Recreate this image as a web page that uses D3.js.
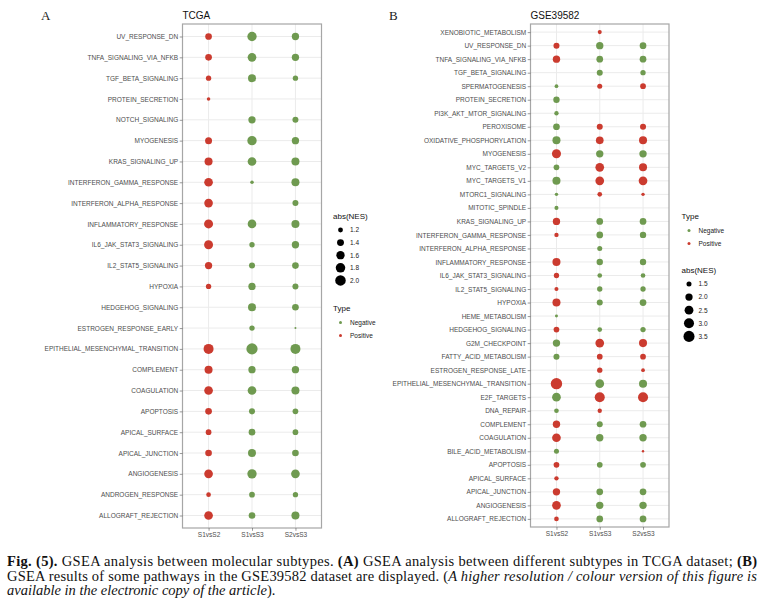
<!DOCTYPE html>
<html>
<head>
    <title>GSEA dot plots</title>
    <script src="https://d3js.org/d3.v7.min.js"></script>
    <style>
        body { margin: 0; background: #fff; }
    </style>
</head>
<body>
<svg width="762" height="604"></svg>
<script>
    const comparisons = ["S1vsS2", "S1vsS3", "S2vsS3"];

    // Panel A (TCGA), rows listed top to bottom
    const pathwaysA = [
        "UV_RESPONSE_DN", "TNFA_SIGNALING_VIA_NFKB", "TGF_BETA_SIGNALING", "PROTEIN_SECRETION",
        "NOTCH_SIGNALING", "MYOGENESIS", "KRAS_SIGNALING_UP", "INTERFERON_GAMMA_RESPONSE",
        "INTERFERON_ALPHA_RESPONSE", "INFLAMMATORY_RESPONSE", "IL6_JAK_STAT3_SIGNALING", "IL2_STAT5_SIGNALING",
        "HYPOXIA", "HEDGEHOG_SIGNALING", "ESTROGEN_RESPONSE_EARLY", "EPITHELIAL_MESENCHYMAL_TRANSITION",
        "COMPLEMENT", "COAGULATION", "APOPTOSIS", "APICAL_SURFACE",
        "APICAL_JUNCTION", "ANGIOGENESIS", "ANDROGEN_RESPONSE", "ALLOGRAFT_REJECTION"
    ];
    const nesA_S1vsS2 = [1.37, 1.37, 1.24, 1.13, null, 1.41, 1.55, 1.65, 1.65, 1.70, 1.70, 1.45,
                         1.24, null, null, 1.89, 1.55, 1.65, 1.37, 1.27, 1.37, 1.65, 1.19, 1.65];
    const nesA_S1vsS3 = [1.77, 1.65, 1.55, null, 1.45, 1.77, 1.65, 1.13, null, 1.65, 1.24, 1.30,
                         1.45, 1.55, 1.24, 2.15, 1.45, 1.65, 1.30, 1.37, 1.55, 1.77, 1.27, 1.37];
    const nesA_S2vsS3 = [1.45, 1.45, 1.24, null, 1.30, 1.45, 1.55, 1.55, 1.30, 1.55, 1.45, 1.37,
                         1.30, 1.37, 1.10, 1.89, 1.45, 1.55, 1.27, 1.27, 1.37, 1.65, 1.24, 1.55];
    const typeA = ["Positive", "Negative", "Negative"];   // one type per comparison in TCGA
    const sizeBreaksA = [1.2, 1.4, 1.6, 1.8, 2.0];

    // Panel B (GSE39582), rows listed top to bottom; P = Positive, N = Negative
    const pathwaysB = [
        "XENOBIOTIC_METABOLISM", "UV_RESPONSE_DN", "TNFA_SIGNALING_VIA_NFKB", "TGF_BETA_SIGNALING",
        "SPERMATOGENESIS", "PROTEIN_SECRETION", "PI3K_AKT_MTOR_SIGNALING", "PEROXISOME",
        "OXIDATIVE_PHOSPHORYLATION", "MYOGENESIS", "MYC_TARGETS_V2", "MYC_TARGETS_V1",
        "MTORC1_SIGNALING", "MITOTIC_SPINDLE", "KRAS_SIGNALING_UP", "INTERFERON_GAMMA_RESPONSE",
        "INTERFERON_ALPHA_RESPONSE", "INFLAMMATORY_RESPONSE", "IL6_JAK_STAT3_SIGNALING", "IL2_STAT5_SIGNALING",
        "HYPOXIA", "HEME_METABOLISM", "HEDGEHOG_SIGNALING", "G2M_CHECKPOINT",
        "FATTY_ACID_METABOLISM", "ESTROGEN_RESPONSE_LATE", "EPITHELIAL_MESENCHYMAL_TRANSITION", "E2F_TARGETS",
        "DNA_REPAIR", "COMPLEMENT", "COAGULATION", "BILE_ACID_METABOLISM",
        "APOPTOSIS", "APICAL_SURFACE", "APICAL_JUNCTION", "ANGIOGENESIS", "ALLOGRAFT_REJECTION"
    ];
    const nesB_S1vsS2 = [null, 1.68, 2.02, null, 1.35, 1.76, 1.41, 1.84, 2.23, 2.59, 1.62, 2.23,
                         1.33, 1.38, 2.02, 1.41, null, 2.23, 1.55, 1.38, 2.23, 1.31, 1.62, 2.02,
                         1.68, null, 3.67, 2.46, 1.45, 2.02, 2.46, 1.50, 1.62, 1.41, 2.02, 2.46, 1.45];
    const typeB_S1vsS2 = ["", "P", "P", "", "N", "N", "N", "N", "N", "P", "N", "N",
                          "N", "N", "P", "P", "", "P", "P", "P", "P", "N", "P", "N",
                          "N", "", "P", "N", "N", "P", "P", "N", "P", "P", "P", "P", "P"];
    const nesB_S1vsS3 = [1.38, 2.02, 1.84, 1.68, 1.50, null, null, 1.68, 2.12, 2.02, 2.46, 2.46,
                         1.45, null, 1.84, 1.84, 1.50, 1.76, 1.45, 1.55, 1.68, null, 1.45, 2.46,
                         1.62, 1.55, 2.46, 3.01, 1.41, 1.68, 2.02, null, 1.62, null, 1.84, 2.02, 1.84];
    const typeB_S1vsS3 = ["P", "N", "N", "N", "P", "", "", "P", "P", "N", "P", "P",
                          "P", "", "N", "N", "N", "N", "N", "N", "N", "", "N", "P",
                          "P", "P", "N", "P", "P", "N", "N", "", "N", "", "N", "N", "N"];
    const nesB_S2vsS3 = [null, 1.84, 1.84, 1.55, 1.62, null, null, 1.68, 2.23, 2.02, 2.23, 2.46,
                         1.33, null, 1.84, 1.76, null, 1.76, 1.45, 1.55, 1.84, null, 1.55, 2.23,
                         1.62, 1.35, 2.23, 3.01, null, 1.84, 2.02, 1.30, 1.62, null, 1.84, 2.02, 1.84];
    const typeB_S2vsS3 = ["", "N", "N", "N", "P", "", "", "P", "P", "N", "P", "P",
                          "P", "", "N", "N", "", "N", "N", "N", "N", "", "N", "P",
                          "P", "P", "N", "P", "", "N", "N", "P", "N", "", "N", "N", "N"];
    const sizeBreaksB = [1.5, 2.0, 2.5, 3.0, 3.5];

    const typeNames = ["Negative", "Positive"];
    const typeColors = ["#6f9a50", "#cb3b2f"];
    const color = d3.scaleOrdinal().domain(typeNames).range(typeColors);

    const svg = d3.select("svg");
    const font = "'Liberation Sans', Arial, sans-serif";

    // tidy rows for each panel
    const rowsA = [];
    [nesA_S1vsS2, nesA_S1vsS3, nesA_S2vsS3].forEach((col, j) => {
        col.forEach((v, i) => {
            if (v != null) rowsA.push({pathway: pathwaysA[i], comp: comparisons[j], nes: v, type: typeA[j]});
        });
    });
    const rowsB = [];
    [[nesB_S1vsS2, typeB_S1vsS2], [nesB_S1vsS3, typeB_S1vsS3], [nesB_S2vsS3, typeB_S2vsS3]].forEach(([col, tcol], j) => {
        col.forEach((v, i) => {
            if (v != null) rowsB.push({pathway: pathwaysB[i], comp: comparisons[j], nes: v,
                                       type: tcol[i] === "P" ? "Positive" : "Negative"});
        });
    });

    // ggplot-like area scale: rescale to [0,1], sqrt, then to radius range
    function sizeScale(values, rRange) {
        const norm = d3.scaleLinear().domain(d3.extent(values)).range([0, 1]).clamp(true);
        const rad = d3.scaleLinear().domain([0, 1]).range(rRange);
        return v => rad(Math.sqrt(norm(v)));
    }

    function drawPanel(o) {
        const g = svg.append("g");
        const x = d3.scalePoint().domain(comparisons).range([o.left, o.right]).padding(0.6);
        const y = d3.scalePoint().domain(o.pathways).range([o.top, o.bottom]).padding(0.6);
        const r = sizeScale(o.rows.map(d => d.nes), o.rRange);

        // background grid
        g.append("g").selectAll("line.h").data(o.pathways).join("line")
            .attr("x1", o.left).attr("x2", o.right)
            .attr("y1", d => y(d)).attr("y2", d => y(d))
            .attr("stroke", "#ebebeb").attr("stroke-width", 1);
        g.append("g").selectAll("line.v").data(comparisons).join("line")
            .attr("x1", d => x(d)).attr("x2", d => x(d))
            .attr("y1", o.top).attr("y2", o.bottom)
            .attr("stroke", "#ebebeb").attr("stroke-width", 1);

        // points
        g.append("g").selectAll("circle").data(o.rows).join("circle")
            .attr("cx", d => x(d.comp))
            .attr("cy", d => y(d.pathway))
            .attr("r", d => r(d.nes))
            .attr("fill", d => color(d.type));

        // panel border
        g.append("rect")
            .attr("x", o.left).attr("y", o.top)
            .attr("width", o.right - o.left).attr("height", o.bottom - o.top)
            .attr("fill", "none").attr("stroke", "#a6a6a6").attr("stroke-width", 1.2);

        // axes
        const ay = g.append("g").attr("transform", `translate(${o.left},0)`)
            .call(d3.axisLeft(y).tickSize(2.8).tickPadding(1.5));
        const ax = g.append("g").attr("transform", `translate(0,${o.bottom})`)
            .call(d3.axisBottom(x).tickSize(2.8).tickPadding(1.5));
        [ay, ax].forEach(a => {
            a.select(".domain").remove();
            a.selectAll(".tick line").attr("stroke", "#555").attr("stroke-width", 0.6);
            a.selectAll(".tick text").attr("fill", "#4d4d4d")
                .style("font-family", font).style("font-size", "6.5px");
        });

        // title and panel letter
        g.append("text").attr("x", o.left).attr("y", 19)
            .text(o.title).style("font-family", font).style("font-size", "10px").attr("fill", "#111");
        g.append("text").attr("x", o.letterX).attr("y", 20)
            .text(o.letter).style("font-family", "'Liberation Serif', 'Times New Roman', serif")
            .style("font-size", "13px").attr("fill", "#222");

        // legends
        const drawSize = (titleY) => {
            const lg = g.append("g");
            lg.append("text").attr("x", o.legX).attr("y", titleY).text("abs(NES)")
                .style("font-family", font).style("font-size", "8px").attr("fill", "#111");
            o.breaks.forEach((b, i) => {
                const cy = titleY + 11 + i * o.keyStep;
                lg.append("circle").attr("cx", o.legX + 7.5).attr("cy", cy).attr("r", r(b)).attr("fill", "#000");
                lg.append("text").attr("x", o.legX + 17).attr("y", cy + 2.3).text(d3.format(".1f")(b))
                    .style("font-family", font).style("font-size", "6.5px").attr("fill", "#222");
            });
        };
        const drawType = (titleY) => {
            const lg = g.append("g");
            lg.append("text").attr("x", o.legX).attr("y", titleY).text("Type")
                .style("font-family", font).style("font-size", "8px").attr("fill", "#111");
            typeNames.forEach((t, i) => {
                const cy = titleY + 11.5 + i * 13;
                lg.append("circle").attr("cx", o.legX + 7.5).attr("cy", cy).attr("r", 1.5).attr("fill", color(t));
                lg.append("text").attr("x", o.legX + 17).attr("y", cy + 2.3).text(t)
                    .style("font-family", font).style("font-size", "6.5px").attr("fill", "#222");
            });
        };
        if (o.sizeFirst) { drawSize(o.legY); drawType(o.legY2); }
        else { drawType(o.legY); drawSize(o.legY2); }
    }

    drawPanel({
        rows: rowsA, pathways: pathwaysA, title: "TCGA", letter: "A", letterX: 41,
        left: 182.5, right: 321.5, top: 24, bottom: 528, rRange: [1.0, 5.6],
        breaks: sizeBreaksA, legX: 333, legY: 219, legY2: 311, keyStep: 12.6, sizeFirst: true
    });
    drawPanel({
        rows: rowsB, pathways: pathwaysB, title: "GSE39582", letter: "B", letterX: 389,
        left: 530.5, right: 669, top: 24, bottom: 527, rRange: [1.2, 5.7],
        breaks: sizeBreaksB, legX: 681.5, legY: 219, legY2: 273, keyStep: 13.1, sizeFirst: false
    });

    // caption
    const cap = svg.append("g")
        .style("font-family", "'Liberation Serif', 'Times New Roman', serif")
        .style("font-size", "14.5px").attr("fill", "#111");
    const line1 = cap.append("text").attr("x", 7).attr("y", 566).attr("textLength", 750).attr("lengthAdjust", "spacing");
    line1.append("tspan").attr("font-weight", "bold").text("Fig. (5).");
    line1.append("tspan").text(" GSEA analysis between molecular subtypes. ");
    line1.append("tspan").attr("font-weight", "bold").text("(A)");
    line1.append("tspan").text(" GSEA analysis between different subtypes in TCGA dataset; ");
    line1.append("tspan").attr("font-weight", "bold").text("(B)");
    const line2 = cap.append("text").attr("x", 7).attr("y", 580.5).attr("textLength", 750).attr("lengthAdjust", "spacing");
    line2.append("tspan").text("GSEA results of some pathways in the GSE39582 dataset are displayed. (");
    line2.append("tspan").attr("font-style", "italic").text("A higher resolution / colour version of this figure is");
    const line3 = cap.append("text").attr("x", 7).attr("y", 595);
    line3.append("tspan").attr("font-style", "italic").text("available in the electronic copy of the article");
    line3.append("tspan").text(").");
</script>
</body>
</html>
